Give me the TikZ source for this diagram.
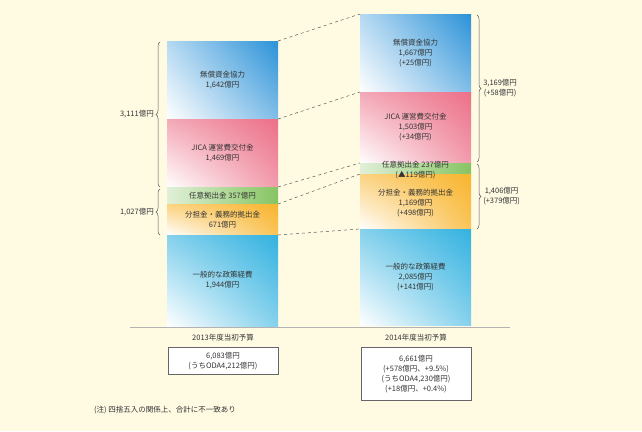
\documentclass[tikz,border=0pt]{standalone}
\usepackage{fontspec}
\setmainfont{Noto Sans CJK JP}
\usetikzlibrary{decorations.pathreplacing,shadings}
\definecolor{bg}{HTML}{FFFBE3}
\definecolor{cblue}{HTML}{2B92D8}
\definecolor{cpink}{HTML}{EC7088}
\definecolor{cgreen}{HTML}{86C462}
\definecolor{corange}{HTML}{F8B52E}
\definecolor{ccyan}{HTML}{33B2E0}
\definecolor{txt}{HTML}{333333}
\begin{document}
\begin{tikzpicture}[x=1pt,y=-1pt,
  seg/.style={minimum width=111pt,inner sep=0pt,outer sep=0pt,align=center,text=txt,font=\fontsize{7.5}{10}\selectfont},
  sblue/.style={seg,upper right=cblue,upper left=cblue!35!white,lower right=cblue!60!white,lower left=white},
  spink/.style={seg,upper right=cpink,upper left=cpink!60!white,lower right=cpink!70!white,lower left=white},
  sgreen/.style={seg,left color=cgreen!25!white,right color=cgreen},
  sorange/.style={seg,upper right=corange,upper left=corange!60!white,lower right=corange!80!white,lower left=white},
  scyan/.style={seg,upper right=ccyan,upper left=ccyan!60!white,lower right=ccyan!60!white,lower left=white},
  lbl/.style={text=txt,font=\fontsize{7.5}{10}\selectfont,align=center,inner sep=1pt},
  dashln/.style={draw=gray!70!black,dashed,line width=0.5pt},
  br/.style={draw=gray!70!black,line width=0.5pt,decorate,decoration={brace,amplitude=4pt}},
  tbox/.style={draw=gray!80!black,line width=0.6pt,fill=white,inner sep=0pt,align=center,text=txt,font=\fontsize{7.5}{10}\selectfont,minimum width=110pt}]
\fill[bg] (0,0) rectangle (642,431);
% left bar
\node[sblue,minimum height=78pt,anchor=north west] (a1) at (167,41) {無償資金協力\\1,642億円};
\node[spink,minimum height=68pt,anchor=north west] (a2) at (167,119) {JICA 運営費交付金\\1,469億円};
\node[sgreen,minimum height=17pt,anchor=north west] (a3) at (167,187) {任意拠出金 357億円};
\node[sorange,minimum height=31pt,anchor=north west] (a4) at (167,204) {分担金・義務的拠出金\\671億円};
\node[scyan,minimum height=91pt,anchor=north west] (a5) at (167,235) {一般的な政策経費\\1,944億円};
% right bar
\node[sblue,minimum height=78pt,anchor=north west] (b1) at (360,14) {無償資金協力\\1,667億円\\(+25億円)};
\node[spink,minimum height=71pt,anchor=north west] (b2) at (360,92) {JICA 運営費交付金\\1,503億円\\(+34億円)};
\node[sgreen,minimum height=11pt,anchor=north west] (b3) at (360,163) {};
\node[sorange,minimum height=55pt,anchor=north west] (b4) at (360,174) {\\分担金・義務的拠出金\\1,169億円\\(+498億円)};
\node[scyan,minimum height=96pt,anchor=north west] (b5) at (360,229) {一般的な政策経費\\2,085億円\\(+141億円)};
\node[lbl] (b3t) at (415.5,170) {任意拠出金 237億円\\(▲119億円)};
% baseline
\coordinate (bl1) at (130,327); \coordinate (bl2) at (510,327);
\draw[gray!60,line width=1pt] (bl1) -- (bl2);
% dashed connectors
\draw[dashln] (a1.north east) -- (b1.north west);
\draw[dashln] (a2.north east) -- (b2.north west);
\draw[dashln] (a3.north east) -- (b3.north west);
\draw[dashln] (a4.north east) -- (b4.north west);
\draw[dashln] (a5.north east) -- (b5.north west);
% braces
\coordinate (lb1) at (160,187); \coordinate (lb2) at (160,42);
\coordinate (lb3) at (160,235); \coordinate (lb4) at (160,189);
\draw[br] (lb1) -- (lb2) node[midway,left=5pt,lbl] (l1) {3,111億円};
\draw[br] (lb3) -- (lb4) node[midway,left=5pt,lbl] (l2) {1,027億円};
\coordinate (rb1) at (477,15); \coordinate (rb2) at (477,162);
\coordinate (rb3) at (477,164); \coordinate (rb4) at (477,229);
\draw[br] (rb1) -- (rb2) node[midway,right=5pt,lbl] (r1) {3,169億円\\(+58億円)};
\draw[br] (rb3) -- (rb4) node[midway,right=5pt,lbl] (r2) {1,406億円\\(+379億円)};
% bottom labels
\node[lbl] (y1) at (223,338) {2013年度当初予算};
\node[lbl] (y2) at (416,338) {2014年度当初予算};
\node[tbox,minimum height=27pt,anchor=north] (t1) at (223,347) {6,083億円\\(うちODA4,212億円)};
\node[tbox,minimum height=53pt,anchor=north] (t2) at (416,347) {6,661億円\\(+578億円、+9.5\%)\\(うちODA4,230億円)\\(+18億円、+0.4\%)};
\node[lbl,anchor=west] (note) at (93,410) {(注) 四捨五入の関係上、合計に不一致あり};
\end{tikzpicture}
\end{document}
